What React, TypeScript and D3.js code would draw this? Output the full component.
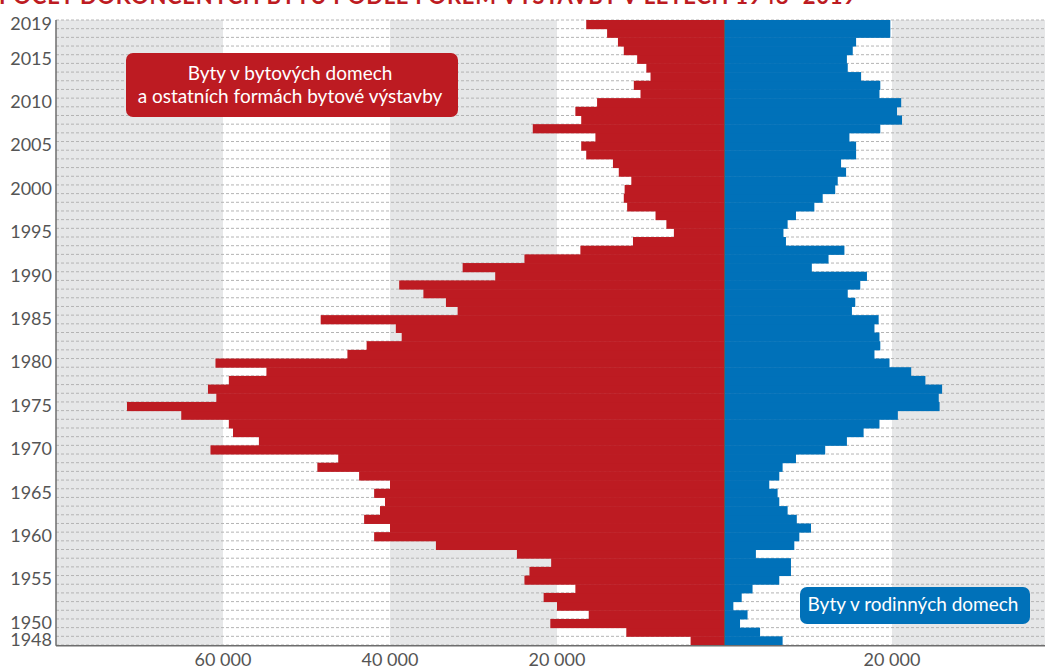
import React from "react";
import * as d3 from "d3";

const years: number[] = d3.range(1948, 2020);

// Byty v bytových domech a ostatních formách (thousands), 1948..2019
const apartmentValues: number[] = [
  4.0, 11.7, 20.8, 16.2, 20.0, 21.6, 17.8, 23.9, 23.3, 20.7,
  24.8, 34.5, 41.9, 40.0, 43.1, 41.2, 40.6, 41.9, 40.0, 43.7,
  48.7, 46.2, 61.5, 55.7, 58.8, 59.3, 65.0, 71.5, 60.8, 61.8,
  59.3, 54.8, 60.9, 45.1, 42.8, 38.6, 39.3, 48.3, 31.9, 33.3,
  36.0, 38.9, 27.4, 31.3, 23.9, 17.2, 10.9, 6.0, 6.9, 8.2,
  11.6, 12.0, 11.9, 11.1, 12.6, 13.3, 16.5, 17.1, 15.4, 22.9,
  17.1, 17.8, 15.2, 10.0, 10.8, 8.8, 9.3, 10.4, 12.0, 12.7,
  14.0, 16.5,
];

// Byty v rodinných domech (thousands), 1948..2019
const houseValues: number[] = [
  6.9, 4.2, 1.8, 2.7, 1.0, 2.0, 3.3, 6.5, 7.9, 7.9,
  3.7, 8.3, 8.9, 10.3, 8.6, 7.5, 6.5, 6.3, 5.3, 6.5,
  6.9, 8.5, 12.0, 14.6, 16.6, 18.5, 20.7, 25.7, 25.6, 26.0,
  24.0, 22.3, 19.7, 17.9, 18.6, 18.5, 17.9, 18.4, 15.2, 15.6,
  14.7, 16.2, 17.0, 10.4, 12.4, 14.3, 7.3, 7.0, 7.5, 8.5,
  10.7, 11.7, 13.2, 13.5, 14.5, 13.9, 15.7, 15.7, 14.9, 18.6,
  21.2, 20.6, 21.1, 18.5, 18.6, 16.3, 14.7, 14.6, 15.3, 15.7,
  19.8, 19.8,
];

const yearTicks: number[] = [2019, 2015, 2010, 2005, 2000, 1995, 1990, 1985, 1980, 1975, 1970, 1965, 1960, 1955, 1950, 1948];
const leftTicks: number[] = [60000, 40000, 20000];
const rightTicks: number[] = [20000];

const title = "POČET DOKONČENÝCH BYTŮ PODLE FOREM VÝSTAVBY V LETECH 1948–2019";
const legendRedLines = ["Byty v bytových domech", "a ostatních formách bytové výstavby"];
const legendBlue = "Byty v rodinných domech";

const RED = "#bd1b22";
const BLUE = "#0071b9";
const BAND = "#e6e7e8";
const FONT = "Lato, 'Open Sans', sans-serif";

export default function App() {
  const W = 1045;
  const H = 669;
  const top = 20;
  const bottom = 645;
  const center = 724;
  const left = 56;

  const xL = d3.scaleLinear().domain([0, 80000]).range([center, left]);
  const xR = d3.scaleLinear().domain([0, 40000]).range([center + 1, center + 1 + (center - left) / 2]);
  const yS = d3
    .scaleBand<number>()
    .domain([...years].reverse())
    .range([top, bottom])
    .padding(0);
  const bw = yS.bandwidth();
  const fmt = (v: number) => d3.format(",")(v).replace(/,/g, " ");

  const rows = years.map((yr, i) => ({ yr, a: apartmentValues[i] * 1000, h: houseValues[i] * 1000 }));
  const boundaries = [...years.map((yr) => yS(yr) as number), bottom];

  return (
    <svg
      width={W}
      height={H}
      style={{ position: "absolute", left: 0, top: 0, display: "block", background: "#fff" }}
      fontFamily={FONT}
    >
      {/* background bands */}
      <rect x={xL(80000)} y={top} width={xL(60000) - xL(80000)} height={bottom - top} fill={BAND} />
      <rect x={xL(40000)} y={top} width={xL(20000) - xL(40000)} height={bottom - top} fill={BAND} />
      <rect x={xR(20000)} y={top} width={W - xR(20000)} height={bottom - top} fill={BAND} />

      {/* dashed row lines */}
      {boundaries.map((b, i) => (
        <line
          key={"d" + i}
          x1={left}
          x2={W}
          y1={b}
          y2={b}
          stroke="#b4b4b4"
          strokeWidth={1}
          strokeDasharray="3,2"
        />
      ))}

      {/* bars */}
      {rows.map((r) => (
        <g key={r.yr}>
          <rect
            x={xL(r.a)}
            y={(yS(r.yr) as number)}
            width={center - xL(r.a)}
            height={bw + 0.5}
            fill={RED}
          />
          <rect
            x={xR(0)}
            y={(yS(r.yr) as number)}
            width={xR(r.h) - xR(0)}
            height={bw + 0.5}
            fill={BLUE}
          />
        </g>
      ))}

      {/* center line */}
      <line x1={center + 0.5} x2={center + 0.5} y1={top} y2={bottom} stroke="#5a5a5a" strokeWidth={1} />

      {/* axes */}
      <line x1={left} x2={left} y1={top} y2={bottom + 0.75} stroke="#6d6d6d" strokeWidth={1.5} />
      <line x1={left} x2={W} y1={bottom + 0.75} y2={bottom + 0.75} stroke="#6d6d6d" strokeWidth={1.5} />

      {/* y labels */}
      {yearTicks.map((t) => (
        <text
          key={"y" + t}
          x={52}
          y={(yS(t) as number) + bw / 2 + 1}
          textAnchor="end"
          dominantBaseline="middle"
          fontSize={18}
          fill="#555"
        >
          {t}
        </text>
      ))}

      {/* x labels */}
      {leftTicks.map((t) => (
        <text key={"l" + t} x={xL(t)} y={666} textAnchor="middle" fontSize={18} fill="#555">
          {fmt(t)}
        </text>
      ))}
      {rightTicks.map((t) => (
        <text key={"r" + t} x={xR(t)} y={666} textAnchor="middle" fontSize={18} fill="#555">
          {fmt(t)}
        </text>
      ))}

      {/* legend red */}
      <rect x={126} y={53} width={332} height={64} rx={7} fill={RED} />
      {legendRedLines.map((l, i) => (
        <text key={"lr" + i} x={290} y={80 + i * 23} textAnchor="middle" fontSize={19} fill="#fff">
          {l}
        </text>
      ))}

      {/* legend blue */}
      <rect x={800} y={587} width={230} height={37} rx={7} fill={BLUE} />
      <text x={913} y={611} textAnchor="middle" fontSize={19} fill="#fff">
        {legendBlue}
      </text>

      {/* title (cut off at top) */}
      <text
        x={-1}
        y={4}
        fontSize={22}
        fontWeight="bold"
        fill={RED}
        textLength={857}
        lengthAdjust="spacing"
      >
        {title}
      </text>
    </svg>
  );
}
